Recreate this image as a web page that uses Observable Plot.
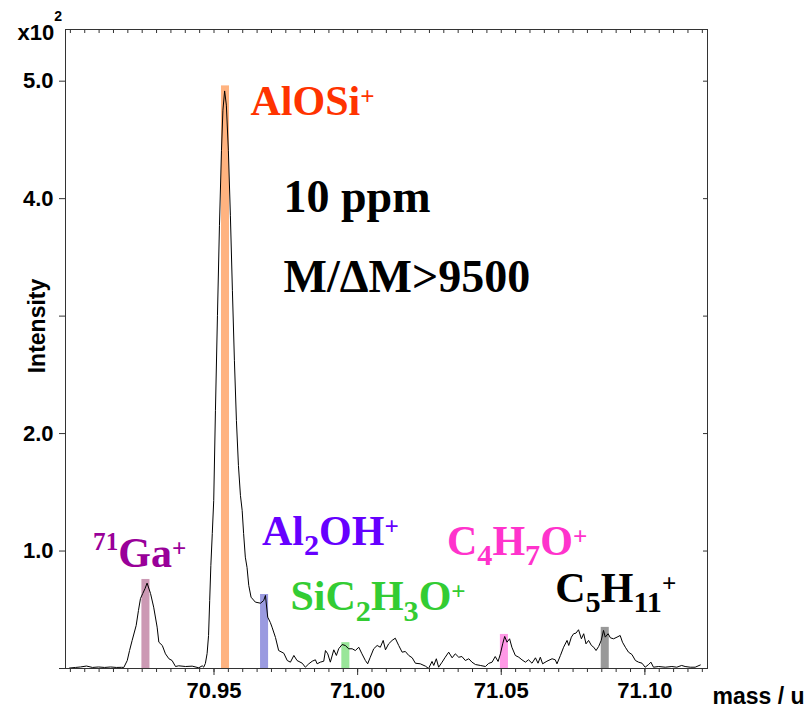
<!DOCTYPE html>
<html><head><meta charset="utf-8">
<script src="https://cdn.jsdelivr.net/npm/d3@7"></script>
<script src="https://cdn.jsdelivr.net/npm/@observablehq/plot@0.6"></script>
<style>html,body{margin:0;padding:0;background:#fff;overflow:hidden}svg{display:block}</style>
</head><body><div id="chart"></div>
<script>
// ---------- DATA ----------
// mass spectrum trace: [mass (u), intensity (x10^2)]
const trace = [
[70.8997,0.004],[70.9018,0.009],[70.9035,0.013],[70.9056,0.021],[70.9077,0.009],[70.9098,0.013],[70.9119,0.009],[70.9140,0.013],[70.9160,0.009],[70.9178,0.010],
[70.9186,0.009],[70.9198,0.068],[70.9206,0.153],[70.9215,0.239],[70.9229,0.366],[70.9237,0.494],[70.9244,0.596],[70.9252,0.639],[70.9260,0.681],[70.9267,0.727],
[70.9279,0.639],[70.9290,0.522],[70.9302,0.352],[70.9308,0.224],[70.9320,0.196],[70.9331,0.125],[70.9343,0.083],[70.9354,0.068],[70.9366,0.017],[70.9377,0.023],
[70.9401,0.017],[70.9424,0.020],[70.9447,0.006],[70.9459,0.023],
[70.9464,0.011],[70.9470,0.043],[70.9476,0.128],[70.9481,0.281],[70.9485,0.579],[70.9489,0.877],[70.9494,1.150],[70.9499,1.430],[70.9505,2.198],[70.9512,3.007],
[70.9519,3.773],[70.9526,4.412],[70.9531,4.753],[70.9537,4.917],[70.9543,4.796],[70.9550,4.412],[70.9557,3.859],[70.9564,3.220],[70.9571,2.624],[70.9578,2.112],
[70.9585,1.729],[70.9592,1.474],[70.9598,1.346],[70.9603,1.150],[70.9609,0.948],[70.9615,0.860],[70.9621,0.707],[70.9629,0.607],[70.9644,0.565],[70.9662,0.556],
[70.9673,0.579],[70.9679,0.622],[70.9687,0.437],[70.9696,0.392],[70.9702,0.352],[70.9714,0.264],[70.9725,0.153],[70.9743,0.130],[70.9755,0.068],[70.9766,0.054],
[70.9778,0.111],[70.9789,0.068],[70.9807,0.045],[70.9818,0.011],[70.9830,0.040],[70.9842,0.062],[70.9853,0.074],[70.9859,0.040],[70.9870,0.054],[70.9882,0.062],
[70.9888,0.153],[70.9896,0.125],[70.9905,0.054],[70.9917,0.159],[70.9926,0.111],[70.9934,0.168],[70.9946,0.204],[70.9957,0.196],[70.9969,0.168],[70.9981,0.168],
[70.9992,0.153],[71.0004,0.181],[71.0015,0.125],[71.0027,0.068],[71.0035,0.040],[71.0044,0.096],[71.0056,0.168],[71.0068,0.196],[71.0079,0.181],[71.0089,0.239],
[71.0097,0.159],[71.0108,0.210],[71.0120,0.239],[71.0131,0.258],[71.0143,0.196],[71.0155,0.139],[71.0166,0.145],[71.0178,0.111],[71.0190,0.091],[71.0201,0.045],
[71.0218,0.040],[71.0236,0.020],[71.0247,0.000],[71.0259,0.060],[71.0265,0.026],[71.0274,0.083],[71.0282,0.011],[71.0294,0.054],[71.0305,0.096],[71.0317,0.139],
[71.0329,0.091],[71.0340,0.125],[71.0352,0.096],[71.0363,0.102],[71.0375,0.068],[71.0387,0.083],[71.0398,0.054],[71.0410,0.034],[71.0427,0.026],[71.0445,0.017],
[71.0456,0.043],[71.0468,0.054],[71.0479,0.102],[71.0489,0.060],[71.0497,0.125],[71.0505,0.210],[71.0512,0.273],[71.0520,0.224],[71.0529,0.253],[71.0537,0.181],
[71.0549,0.111],[71.0561,0.096],[71.0572,0.074],[71.0584,0.054],[71.0595,0.074],[71.0607,0.045],[71.0619,0.091],[71.0628,0.045],[71.0636,0.096],[71.0644,0.040],
[71.0659,0.062],[71.0677,0.083],[71.0688,0.074],[71.0694,0.040],[71.0706,0.111],[71.0717,0.181],[71.0729,0.239],[71.0735,0.196],[71.0744,0.267],[71.0752,0.296],
[71.0760,0.301],[71.0769,0.330],[71.0779,0.253],[71.0787,0.296],[71.0795,0.210],[71.0804,0.239],[71.0814,0.196],[71.0822,0.181],[71.0830,0.153],[71.0839,0.187],
[71.0848,0.239],[71.0856,0.324],[71.0862,0.267],[71.0872,0.296],[71.0880,0.261],[71.0891,0.253],[71.0903,0.267],[71.0914,0.281],[71.0922,0.224],[71.0932,0.181],
[71.0943,0.139],[71.0955,0.119],[71.0967,0.068],[71.0978,0.054],[71.0990,0.045],[71.1001,0.011],[71.1013,0.034],[71.1021,0.054],[71.1030,0.011],[71.1048,0.017],
[71.1071,0.011],[71.1094,0.017],[71.1111,0.011],[71.1128,0.026],[71.1140,0.017],[71.1158,0.011],[71.1175,0.011],[71.1193,0.030]
];
// peak assignments
const species     = ["71Ga+", "AlOSi+", "Al2OH+", "SiC2H3O+", "C4H7O+", "C5H11+"];
const peakMass    = [70.9263, 70.9540, 70.9676, 70.9959, 71.0511, 71.0862];
const peakHeight  = [0.758, 4.96, 0.63, 0.22, 0.29, 0.35];
const labelMarkup = ["^{71}Ga^{+}", "AlOSi^{+}", "Al_{2}OH^{+}", "SiC_{2}H_{3}O^{+}", "C_{4}H_{7}O^{+}", "C_{5}H_{11}^{+}"];
// annotation anchors (data space)
const labelMass      = [70.9079, 70.9627, 70.9667, 70.9766, 71.0311, 71.0688];
const labelIntensity = [0.863, 4.710, 1.048, 0.494, 0.963, 0.565];
const noteText       = ["10 ppm", "M/\u0394M>9500"];
const noteMass       = [70.9742, 70.9742];
const noteIntensity  = [3.884, 3.203];
// axes
const yTicks       = [0, 1, 2, 3, 4, 5];
const yTickLabels  = ["", "1.0", "2.0", "", "4.0", "5.0"];
const xMajorTicks  = [70.95, 71.00, 71.05, 71.10];
const xTickLabels  = ["70.95", "71.00", "71.05", "71.10"];
const xMinorTicks  = d3.range(0, 45).map(i => +(70.9 + i * 0.005).toFixed(3));
const xDomain = [70.8983, 71.1218];
const yDomain = [0, 5.44];

// ---------- STYLE ----------
const barColors   = ["#cc99b4", "#ffb380", "#9a9ae0", "#99e699", "#ff99e6", "#999999"];
const labelColors = ["#990099", "#ff3300", "#6600ff", "#33cc33", "#ff33cc", "#000000"];
const BAR_HALF = 0.0014;
const serif = "'Liberation Serif','Times New Roman',Times,serif";
const sans = "'Liberation Sans',Arial,Helvetica,sans-serif";
const axisColor = "#333";
const LABEL_SIZE = 42;

const peaks = species.map((s, i) => ({s, m: peakMass[i], h: peakHeight[i], c: barColors[i]}));
const labels = species.map((s, i) => ({t: labelMarkup[i], m: labelMass[i], v: labelIntensity[i], c: labelColors[i]}));
const notes = noteText.map((t, i) => ({t, m: noteMass[i], v: noteIntensity[i]}));

const svg = Plot.plot({
  width: 810, height: 708,
  marginLeft: 65, marginRight: 103, marginTop: 29, marginBottom: 40,
  x: {domain: xDomain, label: null},
  y: {domain: yDomain, label: null},
  color: {type: "identity"},
  style: {fontFamily: sans, fontWeight: "bold", background: "#fff", color: "#000", overflow: "visible"},
  marks: [
    Plot.rect(peaks, {x1: d => d.m - BAR_HALF, x2: d => d.m + BAR_HALF, y1: 0, y2: "h", fill: "c"}),
    Plot.line(trace, {x: d => d[0], y: d => d[1], stroke: "#000", strokeWidth: 1}),
    Plot.text(labels, {x: "m", y: "v", text: "t", fill: "c", fontFamily: serif, fontSize: LABEL_SIZE,
      fontWeight: "bold", textAnchor: "start", lineAnchor: "bottom", ariaDescription: "species"}),
    Plot.text(notes, {x: "m", y: "v", text: "t", fill: "#000", fontFamily: serif, fontSize: 46,
      fontWeight: "bold", textAnchor: "start", lineAnchor: "bottom"}),
    Plot.frame({stroke: axisColor}),
    Plot.axisX(xMinorTicks, {anchor: "bottom", tickSize: 4, fill: "none", stroke: axisColor, label: null}),
    Plot.axisX(xMajorTicks, {anchor: "bottom", tickSize: 7, tickPadding: 7, stroke: axisColor, fill: "#000",
      tickFormat: d => xTickLabels[xMajorTicks.indexOf(d)], fontSize: 22, fontWeight: "bold", label: null}),
    Plot.axisX(xMinorTicks, {anchor: "bottom", frameAnchor: "top", tickSize: 4, fill: "none", stroke: axisColor, label: null}),
    Plot.axisY(yTicks, {anchor: "left", tickSize: 6, tickPadding: 6, stroke: axisColor, fill: "#000",
      tickFormat: d => yTickLabels[yTicks.indexOf(d)], fontSize: 22, fontWeight: "bold", label: null}),
    Plot.axisY(yTicks.slice(1), {anchor: "left", frameAnchor: "right", tickSize: 4, fill: "none", stroke: axisColor, label: null}),
    Plot.text(["Intensity"], {frameAnchor: "left", text: d => d, rotate: -90, dx: -28, dy: -23, textAnchor: "middle", fontSize: 23, fontWeight: "bold"}),
    Plot.text(["mass / u"], {frameAnchor: "bottom-right", text: d => d, dx: 5, dy: 35, textAnchor: "start", lineAnchor: "bottom", fontSize: 23, fontWeight: "bold"}),
    Plot.text(["x10^{2}"], {frameAnchor: "top-left", text: d => d, dx: -48, dy: 10, textAnchor: "start", lineAnchor: "bottom",
      fontSize: 22, fontWeight: "bold", ariaDescription: "exponent"})
  ]
});

function richText(root, desc, base, {subScale = 0.72, subShift = 0.24, supScale = 0.6, supShift = 0.4, plusShift = 0.24} = {}) {
  const texts = Array.from(root.querySelectorAll("text")).filter(t => {
    const g = t.closest("g[aria-description]");
    return g && g.getAttribute("aria-description") === desc;
  });
  for (const el of texts) {
    const raw = el.textContent;
    const sel = d3.select(el);
    sel.text(null);
    let cur = 0;
    for (const m of raw.matchAll(/([_^])\{([^}]*)\}|([^_^]+)/g)) {
      let txt, size = base, off = 0;
      if (m[1]) {
        txt = m[2];
        const sub = m[1] === "_";
        size = base * (sub ? subScale : supScale);
        off = sub ? base * subShift : -base * (txt === "+" ? plusShift : supShift);
      } else txt = m[3];
      sel.append("tspan").attr("font-size", size).attr("dy", off - cur).text(txt);
      cur = off;
    }
  }
}
richText(svg, "species", LABEL_SIZE);
richText(svg, "exponent", 22, {supScale: 0.64, supShift: 0.86});

document.getElementById("chart").appendChild(svg);
</script>
</body></html>
